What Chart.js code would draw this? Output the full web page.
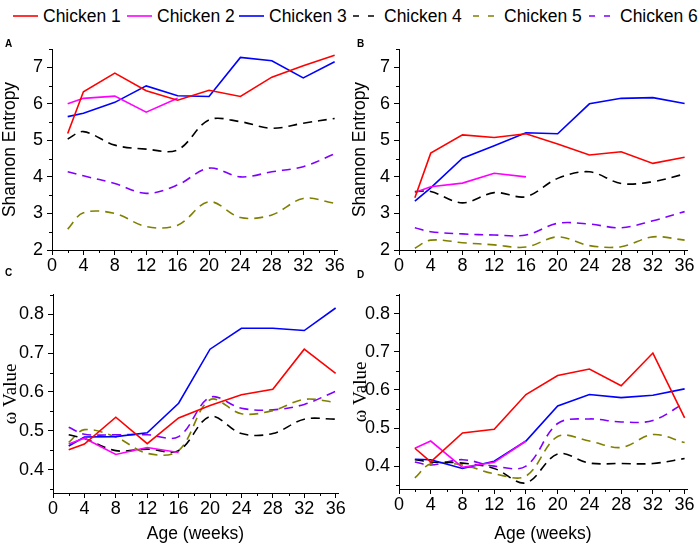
<!DOCTYPE html>
<html>
<head>
<meta charset="utf-8">
<script src="https://cdn.jsdelivr.net/npm/chart.js@4.4.1/dist/chart.umd.min.js"></script>
<style>
  body { margin: 0; background: #fff; width: 700px; height: 549px; overflow: hidden; position: relative;
         font-family: 'Liberation Sans', Arial, sans-serif; }
  canvas { position: absolute; }
  .tag { position: absolute; font: bold 10px 'Liberation Sans', Arial, sans-serif; color: #000; }
  .item { position: absolute; top: 5px; height: 22px; display: flex; align-items: center;
          font-size: 17.5px; white-space: nowrap; color: #000; }
  .item svg { margin-right: 5px; }
</style>
</head>
<body>
<div id="legend"></div>
<canvas id="cA" width="350" height="280" style="left:0;top:0"></canvas>
<canvas id="cB" width="350" height="280" style="left:350px;top:0"></canvas>
<canvas id="cC" width="350" height="269" style="left:0;top:280px"></canvas>
<canvas id="cD" width="350" height="269" style="left:350px;top:280px"></canvas>
<div class="tag" style="left:5px;top:38px">A</div>
<div class="tag" style="left:357px;top:38px">B</div>
<div class="tag" style="left:5px;top:267px">C</div>
<div class="tag" style="left:357px;top:269px">D</div>
<script>
// sampling ages (weeks)
const weeks = [2, 4, 8, 12, 16, 20, 24, 28, 32, 36];
const xTicks = [0, 4, 8, 12, 16, 20, 24, 28, 32, 36];
const names = ['Chicken 1', 'Chicken 2', 'Chicken 3', 'Chicken 4', 'Chicken 5', 'Chicken 6'];
const colors = ['#ff0000', '#ff00ff', '#0000ff', '#000000', '#808000', '#8000ff'];
const dashed = [false, false, false, true, true, true];

// A: Shannon entropy, rows = chicken 1..6
const entropyA = [
  [5.19, 6.33, 6.84, 6.36, 6.10, 6.37, 6.20, 6.73, 7.04, 7.33],
  [6.00, 6.15, 6.21, 5.77, 6.15, null, null, null, null, null],
  [5.65, 5.74, 6.04, 6.49, 6.22, 6.20, 7.27, 7.18, 6.71, 7.15],
  [5.04, 5.24, 4.87, 4.76, 4.74, 5.56, 5.51, 5.33, 5.47, 5.60],
  [2.57, 3.02, 3.00, 2.64, 2.68, 3.32, 2.89, 2.96, 3.41, 3.28],
  [4.14, 4.03, 3.82, 3.55, 3.78, 4.24, 4.00, 4.14, 4.28, 4.63]
];
// B: Shannon entropy
const entropyB = [
  [3.43, 4.65, 5.15, 5.08, 5.18, 4.90, 4.60, 4.69, 4.37, 4.54],
  [3.57, 3.73, 3.83, 4.10, 4.00, null, null, null, null, null],
  [3.34, 3.70, 4.51, 4.85, 5.21, 5.18, 6.00, 6.15, 6.17, 6.01],
  [3.60, 3.60, 3.29, 3.57, 3.46, 3.96, 4.14, 3.82, 3.87, 4.08],
  [2.05, 2.27, 2.20, 2.14, 2.08, 2.36, 2.12, 2.09, 2.36, 2.27],
  [2.61, 2.50, 2.44, 2.41, 2.41, 2.73, 2.71, 2.61, 2.80, 3.05]
];
// C: omega value
const omegaC = [
  [0.451, 0.466, 0.535, 0.467, 0.533, 0.565, 0.593, 0.607, 0.710, 0.648],
  [0.466, 0.481, 0.439, 0.457, 0.444, null, null, null, null, null],
  [0.461, 0.484, 0.485, 0.495, 0.571, 0.710, 0.764, 0.764, 0.758, 0.816],
  [0.490, 0.480, 0.449, 0.453, 0.449, 0.537, 0.493, 0.493, 0.530, 0.530],
  [0.470, 0.503, 0.484, 0.442, 0.449, 0.580, 0.544, 0.552, 0.581, 0.573],
  [0.509, 0.491, 0.490, 0.490, 0.485, 0.586, 0.558, 0.554, 0.568, 0.602]
];
// D: omega value
const omegaD = [
  [0.447, 0.411, 0.487, 0.497, 0.588, 0.638, 0.655, 0.611, 0.697, 0.527],
  [0.447, 0.466, 0.397, 0.410, 0.466, null, null, null, null, null],
  [0.418, 0.417, 0.394, 0.413, 0.466, 0.558, 0.588, 0.580, 0.586, 0.603],
  [0.417, 0.411, 0.408, 0.394, 0.356, 0.432, 0.408, 0.407, 0.407, 0.420],
  [0.369, 0.406, 0.403, 0.380, 0.374, 0.478, 0.466, 0.449, 0.483, 0.462],
  [0.411, 0.403, 0.417, 0.400, 0.400, 0.512, 0.524, 0.516, 0.520, 0.566]
];

const SANS = "'Liberation Sans', Arial, sans-serif";

// legend (html, real text)
const legendX = [13, 127, 239, 353, 473, 589];
const legend = document.getElementById('legend');
names.forEach((n, i) => {
  const d = document.createElement('div');
  d.className = 'item';
  d.style.left = legendX[i] + 'px';
  const w = dashed[i] ? 22 : 25;
  const dash = dashed[i] ? ' stroke-dasharray="6,9"' : '';
  d.innerHTML = `<svg width="${w}" height="4"><line x1="0" y1="2" x2="${w}" y2="2" stroke="${colors[i]}" stroke-width="1.6"${dash}/></svg>` +
    (dashed[i] ? '<span style="margin-left:4px">' + n + '</span>' : '<span>' + n + '</span>');
  legend.appendChild(d);
});

// minor tick marks between the labelled ones
const minorTicks = {
  id: 'minorTicks',
  afterDraw(chart, args, opts) {
    const ctx = chart.ctx, xs = chart.scales.x, ys = chart.scales.y;
    ctx.save();
    ctx.strokeStyle = '#000';
    ctx.lineWidth = 1;
    ctx.beginPath();
    for (let k = 2; k <= 36; k += 4) {
      const px = Math.round(xs.getPixelForValue(k)) + 0.5;
      ctx.moveTo(px, ys.bottom);
      ctx.lineTo(px, ys.bottom + 3);
    }
    for (let k = 0; k < opts.yCount; k++) {
      const v = opts.yFirst + k * opts.yStep;
      const py = Math.round(ys.getPixelForValue(v)) + 0.5;
      ctx.moveTo(xs.left, py);
      ctx.lineTo(xs.left - 3, py);
    }
    ctx.stroke();
    ctx.restore();
  }
};

function makePanel(id, rows, yMin, yMax, yStep, yTitle, titleFont, minor, box) {
  const datasets = rows.map((vals, i) => ({
    label: names[i],
    data: weeks.map((w, j) => ({ x: w, y: vals[j] })),
    borderColor: colors[i],
    borderWidth: 1.6,
    borderDash: dashed[i] ? [9, 6] : [],
    tension: dashed[i] ? 0.35 : 0,
    pointRadius: 0,
    fill: false,
    spanGaps: false
  }));
  return new Chart(document.getElementById(id), {
    type: 'line',
    data: { datasets },
    plugins: [minorTicks],
    options: {
      responsive: false,
      animation: false,
      layout: { padding: { top: box.top, right: box.right, left: 0, bottom: 0 } },
      plugins: { legend: { display: false }, tooltip: { enabled: false }, minorTicks: minor },
      scales: {
        x: {
          type: 'linear', min: 0, max: 36.3,
          afterFit: s => { s.height = box.xh; },
          afterBuildTicks: s => { s.ticks = xTicks.map(v => ({ value: v })); },
          border: { display: true, color: '#000', width: 1 },
          grid: { drawOnChartArea: false, drawTicks: true, tickLength: 5, tickColor: '#000' },
          ticks: { color: '#000', font: { family: SANS, size: 18 }, padding: 0, maxRotation: 0, autoSkip: false },
          title: box.xTitle ? { display: true, text: 'Age (weeks)', color: '#000',
                   font: { family: SANS, size: 17.5 }, padding: { top: 0, bottom: 4 } } : { display: false }
        },
        y: {
          min: yMin, max: yMax,
          afterFit: s => { s.width = box.yw; },
          border: { display: true, color: '#000', width: 1 },
          grid: { drawOnChartArea: false, drawTicks: true, tickLength: 5, tickColor: '#000' },
          ticks: { stepSize: yStep, includeBounds: false, color: '#000', padding: 4,
                   font: { family: SANS, size: 18 } },
          title: { display: true, text: yTitle, color: '#000', font: titleFont, padding: { top: 0, bottom: 0 } }
        }
      }
    }
  });
}

const entropyFont = { family: SANS, size: 17.5 };
const omegaFont = { family: "'Liberation Serif', 'Times New Roman', serif", size: 19 };
const entropyMinor = { yFirst: 2.5, yStep: 1, yCount: 6 };
const omegaMinor = { yFirst: 0.35, yStep: 0.1, yCount: 6 };

makePanel('cA', entropyA, 2, 7.5, 1, 'Shannon Entropy', entropyFont, entropyMinor,
  { top: 49, right: 13, yw: 52, xh: 30, xTitle: false });
makePanel('cB', entropyB, 2, 7.5, 1, 'Shannon Entropy', entropyFont, entropyMinor,
  { top: 49, right: 13, yw: 49, xh: 30, xTitle: false });
makePanel('cC', omegaC, 0.34, 0.85, 0.1, 'ω Value', omegaFont, omegaMinor,
  { top: 12, right: 12, yw: 53, xh: 56, xTitle: true });
makePanel('cD', omegaD, 0.34, 0.85, 0.1, 'ω Value', omegaFont, omegaMinor,
  { top: 9, right: 13, yw: 49, xh: 60, xTitle: true });
</script>
</body>
</html>
